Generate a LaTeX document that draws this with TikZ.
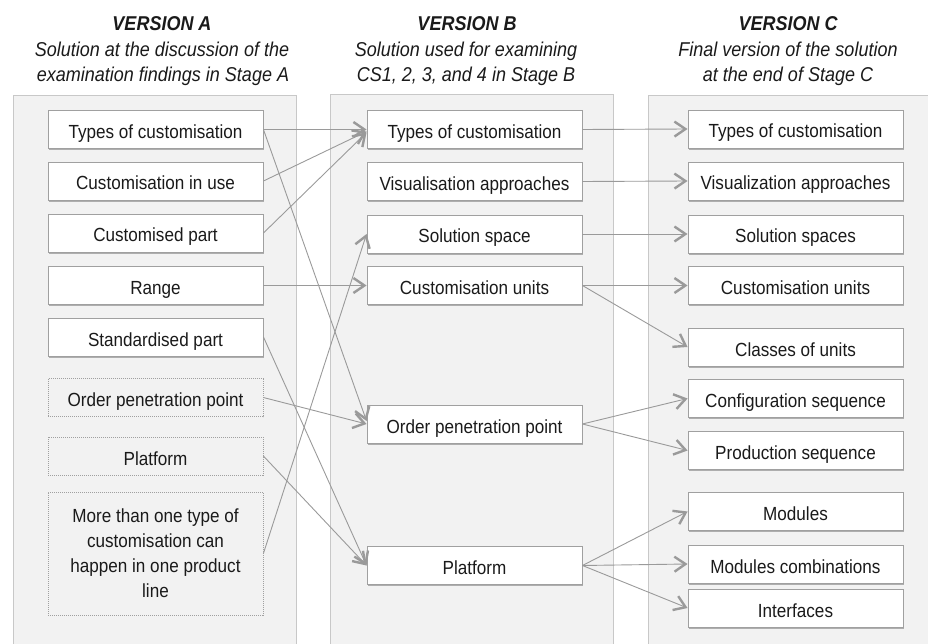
\documentclass[tikz,border=0pt]{standalone}
\usepackage{fontspec}
\setmainfont[FakeStretch=0.9]{Liberation Sans}
\usetikzlibrary{arrows.meta,shadows}

\definecolor{panelfill}{HTML}{F2F2F2}
\definecolor{paneledge}{HTML}{C8C8C8}
\definecolor{boxedge}{HTML}{A0A0A0}
\definecolor{linkgray}{HTML}{9A9A9A}
\definecolor{inkc}{HTML}{1A1A1A}

\tikzset{
  panel/.style={fill=panelfill, draw=paneledge, line width=0.8pt},
  item/.style={draw=boxedge, fill=white, line width=0.9pt,
    minimum width=215pt, minimum height=38pt, inner sep=0pt,
    text height=18pt, text depth=0pt,
    text=inkc, font=\fontsize{19}{25}\selectfont,
    drop shadow={shadow xshift=1.3pt, shadow yshift=-1.6pt, fill=black, opacity=0.28}},
  olditem/.style={draw=boxedge, fill=panelfill, line width=0.8pt,
    dash pattern=on 1pt off 1pt,
    minimum width=215pt, minimum height=38pt, inner sep=0pt,
    text=inkc, font=\fontsize{19}{25}\selectfont, align=center},
  oneline/.style={text height=18pt, text depth=0pt},
  headtitle/.style={anchor=base, text=inkc, inner sep=0pt,
    font=\fontsize{20}{25}\selectfont\bfseries\itshape},
  headline/.style={anchor=base, text=inkc, inner sep=0pt,
    font=\fontsize{20}{25}\selectfont\itshape},
  link/.style={draw=linkgray, line width=0.9pt,
    -{Straight Barb[length=11pt, width=15pt, line width=2.4pt]}},
}

\begin{document}
\begin{tikzpicture}[x=1pt, y=-1pt]
\useasboundingbox (0,0) rectangle (928,644);
\clip (0,0) rectangle (928,644);

% column panels
\path[panel] (13,95) rectangle (296,660);
\path[panel] (330,94) rectangle (613,660);
\path[panel] (648,95) rectangle (945,660);

% column headings
\node[headtitle] (hA1) at (162,31) {VERSION A};
\node[headline]  (hA2) at (162,57) {Solution at the discussion of the};
\node[headline]  (hA3) at (163,82) {examination findings in Stage A};

\node[headtitle] (hB1) at (467,31) {VERSION B};
\node[headline]  (hB2) at (466,57) {Solution used for examining};
\node[headline]  (hB3) at (466,82) {CS1, 2, 3, and 4 in Stage B};

\node[headtitle] (hC1) at (788,31) {VERSION C};
\node[headline]  (hC2) at (788,57) {Final version of the solution};
\node[headline]  (hC3) at (788,82) {at the end of Stage C};

% version A
\node[item] (a1) at (155.5,129.5) {Types of customisation};
\node[item] (a2) at (155.5,181) {Customisation in use};
\node[item] (a3) at (155.5,233) {Customised part};
\node[item] (a4) at (155.5,285.5) {Range};
\node[item] (a5) at (155.5,337) {Standardised part};
\node[olditem, oneline] (a6) at (155.5,397.5) {Order penetration point};
\node[olditem, oneline] (a7) at (155.5,456) {Platform};
\node[olditem, minimum height=123pt] (a8) at (155.5,553.5)
  {More than one type of\\customisation can\\happen in one product\\line};

% version B
\node[item] (b1) at (474.5,129.5) {Types of customisation};
\node[item] (b2) at (474.5,181.5) {Visualisation approaches};
\node[item] (b3) at (474.5,234) {Solution space};
\node[item] (b4) at (474.5,285.5) {Customisation units};
\node[item] (b5) at (474.5,424) {Order penetration point};
\node[item] (b6) at (474.5,565.5) {Platform};

% version C
\node[item] (c1) at (795.5,129) {Types of customisation};
\node[item] (c2) at (795.5,181) {Visualization approaches};
\node[item] (c3) at (795.5,234) {Solution spaces};
\node[item] (c4) at (795.5,285.5) {Customisation units};
\node[item] (c5) at (795.5,347) {Classes of units};
\node[item] (c6) at (795.5,398.5) {Configuration sequence};
\node[item] (c7) at (795.5,450.5) {Production sequence};
\node[item] (c8) at (795.5,511.5) {Modules};
\node[item] (c9) at (795.5,564) {Modules combinations};
\node[item] (c10) at (795.5,608) {Interfaces};

% A -> B
\draw[link] (a1.east) -- (b1.west);
\draw[link] (a2.east) -- ([yshift=-2pt]b1.west);
\draw[link] (a3.east) -- ([yshift=-3pt]b1.west);
\draw[link] (a1.east) -- ([yshift=3pt]b5.west);
\draw[link] (a4.east) -- (b4.west);
\draw[link] (a5.east) -- (b6.west);
\draw[link] (a6.east) -- (b5.west);
\draw[link] (a7.east) -- (b6.west);
\draw[link] (a8.east) -- (b3.west);

% B -> C
\draw[link] (b1.east) -- (c1.west);
\draw[link] (b2.east) -- (c2.west);
\draw[link] (b3.east) -- (c3.west);
\draw[link] (b4.east) -- (c4.west);
\draw[link] (b4.east) -- (c5.west);
\draw[link] (b5.east) -- (c6.west);
\draw[link] (b5.east) -- (c7.west);
\draw[link] (b6.east) -- (c8.west);
\draw[link] (b6.east) -- (c9.west);
\draw[link] (b6.east) -- (c10.west);
\end{tikzpicture}
\end{document}
